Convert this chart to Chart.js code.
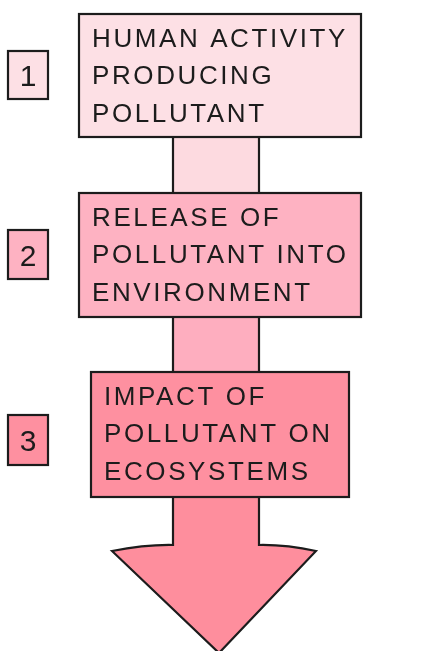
<!DOCTYPE html>
<html>
<head>
<meta charset="utf-8">
<script src="https://cdn.jsdelivr.net/npm/chart.js@4.4.0/dist/chart.umd.min.js"></script>
<style>
    html, body { margin: 0; padding: 0; background: #fff; }
    #wrap { width: 433px; height: 651px; position: relative; }
</style>
</head>
<body>
<div id="wrap"><canvas id="chartFlujo"></canvas></div>
<script>
// datos del diagrama
const stepNumbers = ['1', '2', '3'];
const stepLines = [
    ['HUMAN ACTIVITY', 'PRODUCING', 'POLLUTANT'],
    ['RELEASE OF', 'POLLUTANT INTO', 'ENVIRONMENT'],
    ['IMPACT OF', 'POLLUTANT ON', 'ECOSYSTEMS']
];

// estilos y posiciones (unidades del eje = px del dibujo)
const stepColors = ['#fde0e5', '#feb2c2', '#fe90a0'];
const stemColors = ['#fddae0', '#feaebf', '#fe8e9d'];
const boxLayout = [
    { x0: 79, x1: 361, y0: 14, y1: 137, tx: 92 },
    { x0: 79, x1: 361, y0: 193, y1: 317, tx: 92 },
    { x0: 91, x1: 349, y0: 372, y1: 497, tx: 104 }
];
const numLayout = [
    { y0: 51, y1: 99 },
    { y0: 230, y1: 279 },
    { y0: 415, y1: 465 }
];
const stem = { x0: 173, x1: 259 };
const arrow = { neckY: 545, leftX: 112, leftY: 551, rightX: 316, rightY: 551, tipX: 219, tipY: 653 };

const INK = '#1c1c1c';

function trazarFlecha(ctx, X, Y, topY) {
    ctx.beginPath();
    ctx.moveTo(X(stem.x0), Y(topY));
    ctx.lineTo(X(stem.x0), Y(arrow.neckY));
    ctx.quadraticCurveTo(X(145), Y(544.5), X(arrow.leftX), Y(arrow.leftY));
    ctx.lineTo(X(arrow.tipX), Y(arrow.tipY));
    ctx.lineTo(X(arrow.rightX), Y(arrow.rightY));
    ctx.quadraticCurveTo(X(286), Y(544.5), X(stem.x1), Y(arrow.neckY));
    ctx.lineTo(X(stem.x1), Y(topY));
}

const flujoPlugin = {
    id: 'flujo',
    afterDatasetsDraw(chart) {
        const ctx = chart.ctx;
        const sx = chart.scales.x, sy = chart.scales.y;
        const X = v => sx.getPixelForValue(v);
        const Y = v => sy.getPixelForValue(v);

        ctx.save();
        ctx.lineWidth = 2.2;
        ctx.strokeStyle = INK;
        ctx.lineJoin = 'miter';

        // tallos entre cajas
        for (let i = 0; i < 2; i++) {
            const top = boxLayout[i].y1, bot = boxLayout[i + 1].y0;
            ctx.fillStyle = stemColors[i];
            ctx.fillRect(X(stem.x0), Y(top), X(stem.x1) - X(stem.x0), Y(bot) - Y(top));
            ctx.beginPath();
            ctx.moveTo(X(stem.x0), Y(top)); ctx.lineTo(X(stem.x0), Y(bot));
            ctx.moveTo(X(stem.x1), Y(top)); ctx.lineTo(X(stem.x1), Y(bot));
            ctx.stroke();
        }

        // flecha final
        const b3 = boxLayout[2];
        trazarFlecha(ctx, X, Y, b3.y1);
        ctx.closePath();
        ctx.fillStyle = stemColors[2];
        ctx.fill();
        trazarFlecha(ctx, X, Y, b3.y1);
        ctx.stroke();

        // cajas de texto y numeros
        stepLines.forEach((lines, i) => {
            const b = boxLayout[i];
            ctx.fillStyle = stepColors[i];
            ctx.fillRect(X(b.x0), Y(b.y0), X(b.x1) - X(b.x0), Y(b.y1) - Y(b.y0));
            ctx.strokeRect(X(b.x0), Y(b.y0), X(b.x1) - X(b.x0), Y(b.y1) - Y(b.y0));

            ctx.fillStyle = INK;
            ctx.font = '400 26px "Liberation Sans", sans-serif';
            ctx.letterSpacing = '2.6px';
            ctx.textAlign = 'left';
            ctx.textBaseline = 'alphabetic';
            lines.forEach((txt, k) => {
                ctx.fillText(txt, X(b.tx), Y(b.y0 + 33 + k * 37.3));
            });

            const n = numLayout[i];
            ctx.fillStyle = stepColors[i];
            ctx.fillRect(X(8), Y(n.y0), X(48) - X(8), Y(n.y1) - Y(n.y0));
            ctx.strokeRect(X(8), Y(n.y0), X(48) - X(8), Y(n.y1) - Y(n.y0));
            ctx.fillStyle = INK;
            ctx.letterSpacing = '0px';
            ctx.font = '400 30px "Liberation Sans", sans-serif';
            ctx.textAlign = 'center';
            ctx.fillText(stepNumbers[i], X(28), Y((n.y0 + n.y1) / 2 + 11));
        });

        ctx.restore();
    }
};

new Chart(document.getElementById('chartFlujo'), {
    type: 'scatter',
    data: { datasets: [{ data: [], showLine: false }] },
    options: {
        responsive: true,
        maintainAspectRatio: false,
        animation: false,
        layout: { padding: 0 },
        plugins: {
            legend: { display: false },
            tooltip: { enabled: false }
        },
        scales: {
            x: { type: 'linear', min: 0, max: 433, display: false },
            y: { type: 'linear', min: 0, max: 651, reverse: true, display: false }
        }
    },
    plugins: [flujoPlugin]
});
</script>
</body>
</html>
